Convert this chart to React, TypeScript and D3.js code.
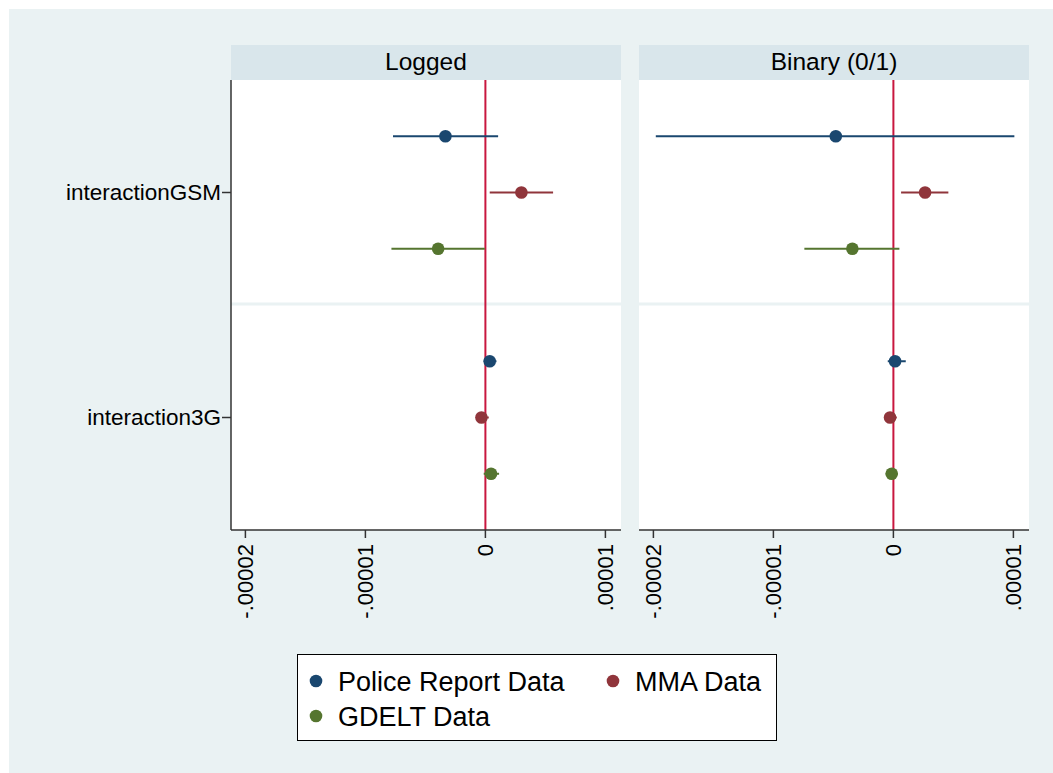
import React from "react";
import * as d3 from "d3";

const categories = ["interactionGSM", "interaction3G"];
const series = ["Police Report Data", "MMA Data", "GDELT Data"];
const seriesColors = ["#1A476F", "#90353B", "#55752F"];
const seriesOffsets = [-0.25, 0, 0.25];
const panels = ["Logged", "Binary (0/1)"];
const xTicks = [-0.00002, -0.00001, 0, 0.00001];
const xTickLabels = ["-.00002", "-.00001", "0", ".00001"];

// [panel][series][category] = [estimate, lo, hi]
const loggedPolice = [[-3.33e-6, -7.7e-6, 1.06e-6], [0.36e-6, -0.14e-6, 0.92e-6]];
const loggedMMA = [[3.0e-6, 0.36e-6, 5.64e-6], [-0.33e-6, -0.78e-6, 0.28e-6]];
const loggedGDELT = [[-3.94e-6, -7.83e-6, -0.05e-6], [0.47e-6, -0.14e-6, 1.14e-6]];
const binaryPolice = [[-4.8e-6, -19.8e-6, 10.08e-6], [0.14e-6, -0.47e-6, 1.03e-6]];
const binaryMMA = [[2.64e-6, 0.64e-6, 4.58e-6], [-0.28e-6, -0.75e-6, 0.28e-6]];
const binaryGDELT = [[-3.42e-6, -7.42e-6, 0.5e-6], [-0.14e-6, -0.64e-6, 0.36e-6]];

const panelData = [
  [loggedPolice, loggedMMA, loggedGDELT],
  [binaryPolice, binaryMMA, binaryGDELT],
];

const W = 1053;
const H = 773;
const FONT = "'Liberation Sans', Arial, sans-serif";

export default function App() {
  const plotTop = 80;
  const plotBottom = 530;
  const headerTop = 45;
  const panelX = [
    [231, 621],
    [639, 1029],
  ];
  const y = d3.scaleLinear().domain([0.5, 2.5]).range([plotTop, plotBottom]);

  return (
    <svg
      width={W}
      height={H}
      style={{ position: "absolute", left: 0, top: 0, fontFamily: FONT }}
    >
      <rect x={0} y={0} width={W} height={H} fill="#ffffff" />
      <rect x={9} y={9} width={W - 9} height={H - 9} fill="#EAF2F3" />

      {panels.map((title, p) => {
        const [x0, x1] = panelX[p];
        const x = d3.scaleLinear().domain([-2.12e-5, 1.13e-5]).range([x0, x1]);
        return (
          <g key={title}>
            <rect x={x0} y={headerTop} width={x1 - x0} height={plotTop - headerTop} fill="#D9E6EB" />
            <text
              x={(x0 + x1) / 2}
              y={70}
              textAnchor="middle"
              fontSize={24.5}
              fill="#000"
            >
              {title}
            </text>
            <rect x={x0} y={plotTop} width={x1 - x0} height={plotBottom - plotTop} fill="#ffffff" />
            {/* group separator */}
            <line x1={x0} x2={x1} y1={y(1.5) - 1} y2={y(1.5) - 1} stroke="#EAF2F3" strokeWidth={3} />
            {/* zero line */}
            <line x1={x(0)} x2={x(0)} y1={plotTop} y2={plotBottom} stroke="#C8173F" strokeWidth={2} />
            {/* series */}
            {series.map((s, si) =>
              categories.map((c, ci) => {
                const [est, lo, hi] = panelData[p][si][ci];
                const yy = y(ci + 1 + seriesOffsets[si]);
                return (
                  <g key={s + c}>
                    <line
                      x1={x(lo)}
                      x2={x(hi)}
                      y1={yy}
                      y2={yy}
                      stroke={seriesColors[si]}
                      strokeWidth={2}
                    />
                    <circle cx={x(est)} cy={yy} r={6.3} fill={seriesColors[si]} />
                  </g>
                );
              })
            )}
            {/* bottom axis */}
            <line x1={x0} x2={x1} y1={plotBottom} y2={plotBottom} stroke="#333" strokeWidth={1.5} />
            {xTicks.map((t, ti) => (
              <g key={t}>
                <line
                  x1={x(t)}
                  x2={x(t)}
                  y1={plotBottom}
                  y2={plotBottom + 8}
                  stroke="#333"
                  strokeWidth={1.5}
                />
                <text
                  transform={`translate(${x(t)},${plotBottom + 14}) rotate(-90)`}
                  textAnchor="end"
                  dy="0.35em"
                  fontSize={22}
                  fill="#000"
                >
                  {xTickLabels[ti]}
                </text>
              </g>
            ))}
            {p === 0 && (
              <g>
                <line x1={x0} x2={x0} y1={plotTop} y2={plotBottom} stroke="#333" strokeWidth={1.5} />
                {categories.map((c, ci) => (
                  <g key={c}>
                    <line
                      x1={x0 - 9}
                      x2={x0}
                      y1={y(ci + 1)}
                      y2={y(ci + 1)}
                      stroke="#333"
                      strokeWidth={1.5}
                    />
                    <text
                      x={x0 - 10}
                      y={y(ci + 1)}
                      dy="0.35em"
                      textAnchor="end"
                      fontSize={22.5}
                      fill="#000"
                    >
                      {c}
                    </text>
                  </g>
                ))}
              </g>
            )}
          </g>
        );
      })}

      {/* legend */}
      <rect x={297.5} y={654.5} width={479} height={86} fill="#ffffff" stroke="#000" strokeWidth={1} />
      {series.map((s, si) => {
        const col = si % 2;
        const row = Math.floor(si / 2);
        const mx = col === 0 ? 316 : 613;
        const my = row === 0 ? 681 : 716;
        return (
          <g key={s}>
            <circle cx={mx} cy={my} r={6.3} fill={seriesColors[si]} />
            <text x={mx + 22} y={my + 10} fontSize={27} fill="#000">
              {s}
            </text>
          </g>
        );
      })}
    </svg>
  );
}
